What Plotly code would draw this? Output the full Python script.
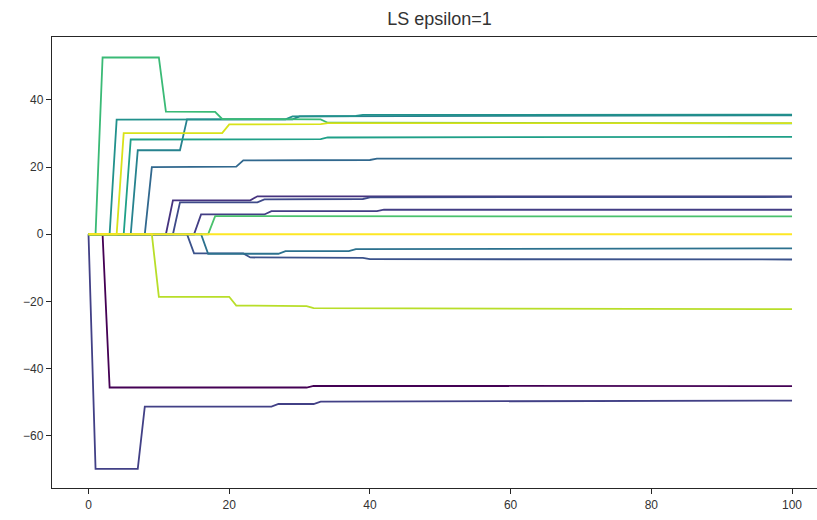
import plotly.graph_objects as go

# Coefficient paths: iteration breakpoints and coefficient values
p01_it = [0, 2, 3, 31, 32, 100]
p01_val = [0, 0, -45.6, -45.6, -45.1, -45.2]

p02_it = [0, 11, 12, 23, 24, 100]
p02_val = [0, 0, 10.1, 10.1, 11.3, 11.3]

p03_it = [0, 15, 16, 25, 26, 41, 42, 100]
p03_val = [0, 0, 5.9, 5.9, 6.9, 6.9, 7.3, 7.3]

p04_it = [0, 1, 7, 8, 26, 27, 32, 33, 100]
p04_val = [0, -69.8, -69.8, -51.3, -51.3, -50.5, -50.5, -49.8, -49.5]

p05_it = [0, 12, 13, 24, 25, 39, 40, 100]
p05_val = [0, 0, 9.5, 9.5, 10.4, 10.5, 11.0, 11.1]

p06_it = [0, 14, 15, 22, 23, 39, 40, 100]
p06_val = [0, 0, -5.7, -5.7, -6.9, -7.0, -7.4, -7.5]

p07_it = [0, 8, 9, 21, 22, 40, 41, 100]
p07_val = [0, 0, 20.0, 20.1, 22.0, 22.1, 22.5, 22.6]

p08_it = [0, 16, 17, 27, 28, 37, 38, 100]
p08_val = [0, 0, -5.8, -5.8, -5.0, -5.0, -4.4, -4.2]

p09_it = [0, 6, 7, 13, 14, 29, 30, 100]
p09_val = [0, 0, 25.0, 25.0, 34.2, 34.2, 35.1, 35.4]

p10_it = [0, 3, 4, 28, 29, 38, 39, 100]
p10_val = [0, 0, 34.1, 34.2, 35.1, 35.2, 35.5, 35.6]

p11_it = [0, 5, 6, 33, 34, 100]
p11_val = [0, 0, 28.2, 28.3, 28.8, 29.0]

p12_it = [0, 1, 2, 10, 11, 18, 19, 33, 34, 100]
p12_val = [0, 0, 52.6, 52.6, 36.5, 36.4, 34.3, 34.2, 33.2, 33.0]

p13_it = [0, 17, 18, 45, 46, 100]
p13_val = [0, 0, 5.4, 5.4, 5.2, 5.3]

p14_it = [0, 9, 10, 20, 21, 31, 32, 100]
p14_val = [0, 0, -18.6, -18.6, -21.2, -21.4, -22.0, -22.3]

p15_it = [0, 4, 5, 19, 20, 33, 34, 100]
p15_val = [0, 0, 30.1, 30.1, 32.7, 32.8, 33.1, 33.1]

p16_it = [0, 100]
p16_val = [0, 0]

paths = [
    (p01_it, p01_val, "#440154"),
    (p02_it, p02_val, "#46337f"),
    (p03_it, p03_val, "#433e85"),
    (p04_it, p04_val, "#424086"),
    (p05_it, p05_val, "#3e4a89"),
    (p06_it, p06_val, "#3b528b"),
    (p07_it, p07_val, "#31688e"),
    (p08_it, p08_val, "#2c718e"),
    (p09_it, p09_val, "#26828e"),
    (p10_it, p10_val, "#21918c"),
    (p11_it, p11_val, "#1fa088"),
    (p12_it, p12_val, "#3aba76"),
    (p13_it, p13_val, "#4ac16d"),
    (p14_it, p14_val, "#b8de29"),
    (p15_it, p15_val, "#d8e219"),
    (p16_it, p16_val, "#fde725"),
]

x_ticks = [0, 20, 40, 60, 80, 100]
y_ticks = [-60, -40, -20, 0, 20, 40]

fig = go.Figure()
for it, val, col in paths:
    fig.add_trace(go.Scatter(x=it, y=val, mode="lines",
                             line=dict(color=col, width=1.8),
                             showlegend=False, hoverinfo="skip"))

axis_col = "#262626"
fig.update_layout(
    width=817, height=520,
    margin=dict(l=52, r=0, t=37, b=32),
    paper_bgcolor="white", plot_bgcolor="white",
    font=dict(family="Liberation Sans, Arial, sans-serif", size=12, color="#333333"),
    title=dict(text="LS epsilon=1", x=(439.5 - 52) / 765, xref="paper", xanchor="center",
               y=1 - 19 / 520, yref="container", yanchor="middle",
               font=dict(size=18, color="#333333")),
    xaxis=dict(range=[-5.19, 103.55], tickvals=x_ticks, showgrid=False, zeroline=False,
               showline=True, mirror=True, linecolor=axis_col, linewidth=1.3,
               ticks="outside", ticklen=5, tickwidth=1.2, tickcolor=axis_col),
    yaxis=dict(range=[-75.5, 58.7], tickvals=y_ticks, showgrid=False, zeroline=False,
               showline=True, mirror=False, linecolor=axis_col, linewidth=1.3,
               ticks="outside", ticklen=5, tickwidth=1.2, tickcolor=axis_col),
)

fig.write_html("out.html", config={"displayModeBar": False},
               post_script="document.body.style.margin='0';document.body.style.overflow='hidden';")
